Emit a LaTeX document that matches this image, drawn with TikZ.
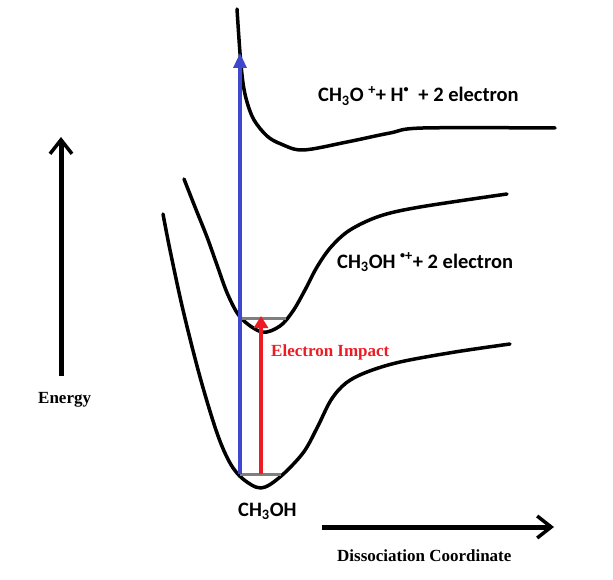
\documentclass[tikz,border=0pt]{standalone}
\usepackage{fontspec}
\setmainfont{Carlito}
\newfontfamily\tnr{Liberation Serif}
\usetikzlibrary{arrows.meta}
\definecolor{pblue}{RGB}{63,72,204}
\definecolor{pred}{RGB}{237,28,36}
\definecolor{pgray}{RGB}{127,127,127}
\newcommand{\smalldot}{\raisebox{0.25ex}{\scalebox{0.7}{\textbullet}}}
\tikzset{
  curve/.style={line width=3.5pt, line cap=round, line join=round},
  level/.style={pgray, line width=3pt},
  axis/.style={line width=5pt, -{Straight Barb[length=14pt,width=22pt,line width=3.5pt]}},
  lbl/.style={inner sep=0pt, anchor=base west, font=\bfseries\fontsize{20.5}{24}\selectfont},
  slbl/.style={inner sep=0pt, anchor=base west, font=\tnr\bfseries\fontsize{17}{20}\selectfont},
}
\begin{document}
\begin{tikzpicture}[x=1pt,y=-1pt]
\useasboundingbox (0,0) rectangle (613,580);
% potential curves
\draw[curve] plot[smooth, tension=0.55] coordinates {(163,214) (170,250) (183,310) (200,377) (217,433) (230,463) (243,479) (261,488) (280,477) (303,453) (317,428) (331,400) (346,383) (367,372) (400,362) (455,352) (510,344)};
\draw[curve] plot[smooth, tension=0.55] coordinates {(184,179) (195,207) (207,237) (217,265) (228,295) (241,318) (262,332) (280,326) (293,311) (305,290) (317,267) (331,247) (350,230) (380,216) (420,207) (507,194)};
\draw[curve] plot[smooth, tension=0.55] coordinates {(237,9) (240,53) (243,83) (247,102) (254,120) (267,136) (281,144) (303,150) (347,142) (390,133) (423,128) (555,128)};
% vibrational levels
\coordinate (g1) at (240,474); \coordinate (g2) at (281,474);
\coordinate (i1) at (242,318); \coordinate (i2) at (286,318);
\draw[level] (g1) -- (g2);
\draw[level] (i1) -- (i2);
% excitation arrows
\coordinate (bt) at (240,53);
\coordinate (rb) at (261,474); \coordinate (rt) at (261,316);
\draw[pblue, line width=3.2pt, -{Triangle[length=15pt,width=13pt]}] (g1) -- (bt);
\draw[pred, line width=3.5pt, -{Triangle[length=12pt,width=14pt]}] (rb) -- (rt);
% axes
\coordinate (e0) at (61,376); \coordinate (e1) at (61,137);
\coordinate (d0) at (322,527); \coordinate (d1) at (554,527);
\draw[axis] (e0) -- (e1);
\draw[axis] (d0) -- (d1);
% labels
\node[lbl] (up) at (318,102) {CH\textsubscript{3}O \textsuperscript{+}+ H\textsuperscript{\smalldot}\ \ + 2 electron};
\node[lbl] (mid) at (337,268) {CH\textsubscript{3}OH \textsuperscript{\smalldot+}+ 2 electron};
\node[lbl] (gs) at (238,516) {CH\textsubscript{3}OH};
\node[slbl, pred] (ei) at (271,356) {Electron Impact};
\node[slbl] (en) at (38,403) {Energy};
\node[slbl] (dc) at (337,561) {Dissociation Coordinate};
\end{tikzpicture}
\end{document}
